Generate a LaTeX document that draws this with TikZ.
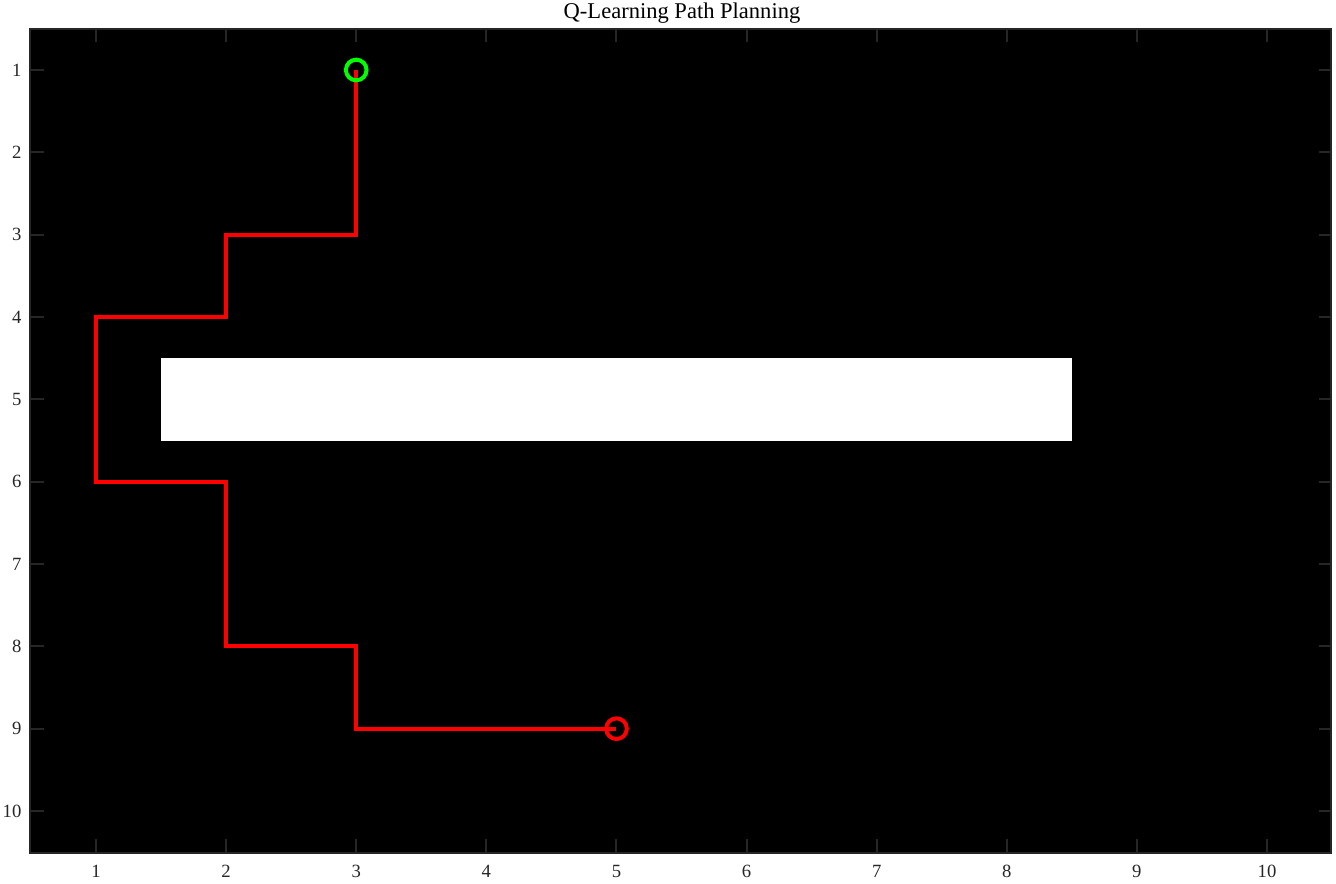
\documentclass[tikz,border=0pt]{standalone}
\usepackage{fontspec}
\setmainfont{Liberation Serif}
\definecolor{axgray}{HTML}{262626}
\definecolor{pathred}{HTML}{FF0000}
\definecolor{startgreen}{HTML}{00FF00}
\tikzset{
  axbox/.style={draw=axgray, line width=1.6pt},
  tickmark/.style={draw=axgray, line width=1.5pt},
  ticklab/.style={font=\fontsize{14}{16}\selectfont, text=axgray, inner sep=0pt},
  route/.style={draw=pathred, line width=3pt, line join=miter},
  marker/.style={circle, draw=#1, line width=3pt, minimum size=15.5pt, inner sep=0pt},
  obstacle/.style={fill=white, draw=none},
}
\begin{document}
\begin{tikzpicture}[x=0.75pt, y=-0.75pt]
\useasboundingbox (0,0) rectangle (1336,883);
\fill[white] (0,0) rectangle (1336,883);
% axes background
\fill[black] (30,29) rectangle (1331,853);
% title
\node[font=\fontsize{16.9}{18}\selectfont, text=black, inner sep=0pt] (title) at (682,13) {Q-Learning Path Planning};
\begin{scope}[shift={(-25.583pt,9.25pt)}, x={(97.583pt,0pt)}, y={(0pt,-61.75pt)}]
  % obstacle
  \fill[obstacle] (1.5,4.5) rectangle (8.5,5.5);
  % ticks
  \foreach \i in {1,...,10} {
    \draw[tickmark] (\i,0.5) -- ++(0,0.16);
    \draw[tickmark] (\i,10.5) -- ++(0,-0.16);
    \draw[tickmark] (0.5,\i) -- ++(0.1,0);
    \draw[tickmark] (10.5,\i) -- ++(-0.1,0);
    \node[ticklab, anchor=center] (xl\i) at (\i,10.5) [yshift=-14.5pt] {\i};
    \node[ticklab, anchor=east] (yl\i) at (0.5,\i) [xshift=-7pt] {\i};
  }
  % path
  \coordinate (p0) at (3,1);
  \coordinate (p1) at (3,3);
  \coordinate (p2) at (2,3);
  \coordinate (p3) at (2,4);
  \coordinate (p4) at (1,4);
  \coordinate (p5) at (1,6);
  \coordinate (p6) at (2,6);
  \coordinate (p7) at (2,8);
  \coordinate (p8) at (3,8);
  \coordinate (p9) at (3,9);
  \coordinate (p10) at (5,9);
  \draw[route] (p0) -- (p1) -- (p2) -- (p3) -- (p4) -- (p5) -- (p6) -- (p7) -- (p8) -- (p9) -- (p10);
  \node[marker=startgreen] (start) at (p0) {};
  \node[marker=pathred] (goal) at (p10) {};
\end{scope}
% axes box
\draw[axbox] (30,29) rectangle (1331,853);
\end{tikzpicture}
\end{document}
